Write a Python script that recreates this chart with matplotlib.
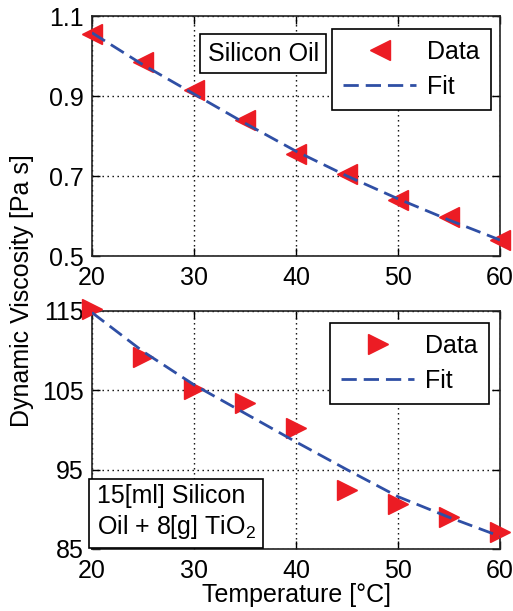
import numpy as np
import matplotlib
matplotlib.use("Agg")
import matplotlib.pyplot as plt

plt.rcParams['font.family'] = ['Liberation Sans', 'DejaVu Sans']
plt.rcParams['mathtext.fontset'] = 'custom'
plt.rcParams['mathtext.rm'] = 'Liberation Sans'

# temperatures [C]
temp = [20, 25, 30, 35, 40, 45, 50, 55, 60]

# silicon oil viscosity [Pa s]
oil_data = [1.054, 0.984, 0.916, 0.840, 0.755, 0.706, 0.640, 0.598, 0.541]
oil_fit = [1.058, 0.978, 0.905, 0.832, 0.762, 0.700, 0.643, 0.590, 0.540]

# silicon oil + TiO2 viscosity
tio2_data = [115.2, 109.2, 105.2, 103.4, 100.2, 92.4, 90.7, 89.0, 87.2]
tio2_fit = [114.8, 109.9, 105.7, 102.1, 98.5, 95.0, 91.6, 89.0, 86.6]

red = '#ec1c24'
blue = '#2f4fa5'
fs = 18

fig = plt.figure(figsize=(5.13, 6.11), dpi=100)
ax1 = fig.add_axes([92 / 513, 1 - 256 / 611, 408 / 513, 240 / 611])
ax2 = fig.add_axes([92 / 513, 1 - 549 / 611, 408 / 513, 238 / 611])


def style(ax, yticks, ylim):
    ax.set_xlim(20, 60)
    ax.set_ylim(*ylim)
    ax.set_xticks([20, 30, 40, 50, 60])
    ax.set_yticks(yticks)
    ax.grid(True, linestyle=(0, (1, 2.6)), color='black', linewidth=1.0)
    ax.tick_params(direction='in', length=6, labelsize=fs, top=True, right=True, width=1)
    ax.tick_params(axis='y', pad=6)
    ax.tick_params(axis='x', pad=7.5)
    for s in ax.spines.values():
        s.set_linewidth(1.2)
        s.set_color('#222222')


def legend(ax, anchor):
    leg = ax.legend(loc='upper right', fontsize=fs, frameon=True, fancybox=False, edgecolor='black',
                    handlelength=2.9, borderaxespad=0, bbox_to_anchor=anchor,
                    handletextpad=0.45, borderpad=0.45, labelspacing=0.42)
    leg.get_frame().set_linewidth(1.2)
    leg.get_frame().set_alpha(1)


ax1.plot(temp, oil_data, '<', color=red, markersize=14, clip_on=False, zorder=3, label='Data')
ax1.plot(temp, oil_fit, '--', color=blue, linewidth=2, dashes=(5.5, 2.5), zorder=4, label='Fit')
style(ax1, [0.5, 0.7, 0.9, 1.1], (0.5, 1.1))
ax1.set_yticklabels(['0.5', '0.7', '0.9', '1.1'])
legend(ax1, (0.978, 0.946))
ax1.text(0.42, 0.842, 'Silicon Oil', transform=ax1.transAxes, ha='center', va='center', fontsize=fs,
         bbox=dict(boxstyle='square,pad=0.3', facecolor='white', edgecolor='black', linewidth=1.2))

ax2.plot(temp, tio2_data, '>', color=red, markersize=14, clip_on=False, zorder=3, label='Data')
ax2.plot(temp, tio2_fit, '--', color=blue, linewidth=2, dashes=(5.5, 2.5), zorder=4, label='Fit')
style(ax2, [85, 95, 105, 115], (85, 115))
legend(ax2, (0.973, 0.95))
ax2.text(0.012, 0.035, '15[ml] Silicon\nOil + 8[g] TiO$_2$', transform=ax2.transAxes, ha='left', va='bottom',
         fontsize=fs, linespacing=1.2,
         bbox=dict(boxstyle='square,pad=0.3', facecolor='white', edgecolor='black', linewidth=1.2))
ax2.set_xlabel('Temperature [°C]', fontsize=fs, labelpad=0)

fig.text(0.043, 0.525, 'Dynamic Viscosity [Pa s]', rotation=90, ha='center', va='center', fontsize=fs)

fig.savefig('out.png', dpi=100)
